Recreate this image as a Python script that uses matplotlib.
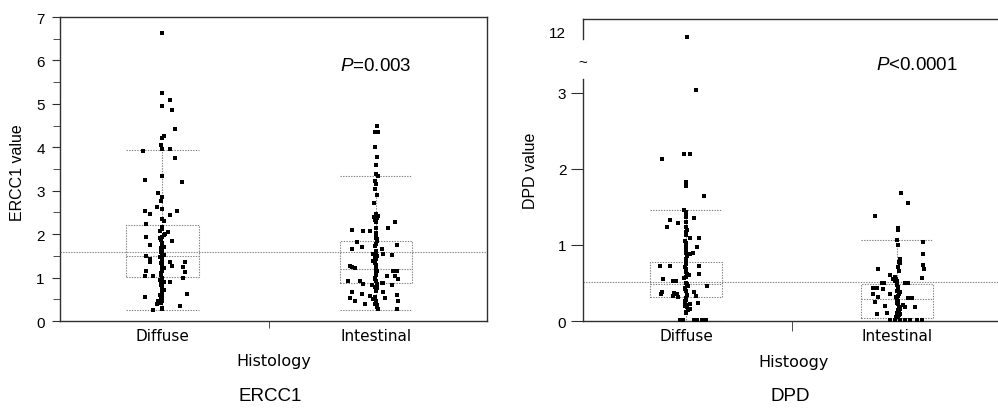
import matplotlib
matplotlib.use("Agg")
import numpy as np
import matplotlib.pyplot as plt
from matplotlib.ticker import MultipleLocator, FixedLocator

plt.rcParams['font.family'] = ['Liberation Sans', 'DejaVu Sans']
plt.rcParams['mathtext.fontset'] = 'custom'
plt.rcParams['mathtext.it'] = 'Liberation Sans:italic'
plt.rcParams['mathtext.rm'] = 'Liberation Sans'

categories = ['Diffuse', 'Intestinal']

# ERCC1 values, with horizontal jitter in category units
ercc1_diffuse = [6.63, 5.24, 5.08, 4.96, 4.85, 4.42, 4.25, 4.22, 4.06, 3.95, 3.95, 3.92, 3.76,
                 3.33, 3.24, 3.20, 2.94, 2.85, 2.77, 2.63, 2.58, 2.54, 2.53, 2.47, 2.43, 2.35,
                 2.24, 2.17, 2.08, 2.00, 2.05, 1.94, 1.93, 1.90, 1.85, 1.80, 1.74, 1.68, 1.62,
                 1.56, 1.50, 1.47, 1.43, 1.42, 1.36, 1.36, 1.36, 1.33, 1.30, 1.27, 1.24, 1.20,
                 1.16, 1.13, 1.10, 1.04, 1.04, 1.00, 1.00, 0.95, 0.93, 0.89, 0.85, 0.80, 0.74,
                 0.68, 0.62, 0.61, 0.57, 0.55, 0.55, 0.47, 0.42, 0.38, 0.35, 0.30, 0.26, 0.27,
                 2.30, 2.12, 1.97, 1.86, 1.76, 1.71, 1.65, 1.59, 1.53, 1.38, 1.22, 1.14, 1.07,
                 0.97, 0.90, 0.83, 0.77, 0.71, 0.65, 0.52, 0.45]
ercc1_diffuse_dx = [0.0, 0.0, 0.035, 0.0, 0.045, 0.06, 0.005, 0.0, -0.005, 0.0, 0.035, -0.09, 0.06,
                    0.0, -0.08, 0.09, -0.02, 0.0, -0.005, -0.025, 0.0, -0.08, 0.07, -0.06, 0.035, 0.0,
                    -0.075, 0.0, -0.01, 0.01, 0.025, 0.0, -0.075, -0.01, 0.045, 0.0, -0.06, -0.005, 0.0,
                    0.0, -0.075, -0.01, -0.06, 0.0, -0.06, 0.035, 0.105, -0.005, 0.0, 0.045, 0.095, 0.0,
                    -0.075, 0.105, -0.005, -0.08, -0.045, 0.0, 0.095, -0.01, -0.005, 0.035, 0.0, 0.0, 0.0,
                    0.0, 0.115, -0.01, 0.0, -0.08, 0.0, -0.02, -0.005, -0.025, 0.08, 0.0, -0.045, 0.0,
                    0.005, 0.0, 0.005, -0.005, 0.0, 0.005, 0.0, -0.005, 0.005, 0.0, 0.005, 0.0, -0.005,
                    0.0, 0.005, -0.005, 0.0, 0.005, 0.0, -0.005, 0.0]

ercc1_intestinal = [4.50, 4.35, 4.35, 4.00, 3.77, 3.60, 3.39, 3.33, 3.23, 3.16, 3.04, 2.90, 2.71,
                    2.46, 2.42, 2.40, 2.37, 2.33, 2.28, 2.27, 2.14, 2.15, 2.10, 2.08, 2.07, 2.02,
                    1.95, 1.88, 1.81, 1.78, 1.74, 1.70, 1.66, 1.66, 1.62, 1.55, 1.54, 1.53, 1.46,
                    1.38, 1.30, 1.27, 1.24, 1.22, 1.18, 1.16, 1.16, 1.10, 1.04, 1.04, 0.97, 0.97,
                    0.93, 0.91, 0.88, 0.88, 0.85, 0.85, 0.83, 0.82, 0.78, 0.72, 0.66, 0.66, 0.62,
                    0.61, 0.58, 0.53, 0.52, 0.50, 0.47, 0.45, 0.40, 0.39, 0.33, 0.28, 0.27,
                    1.92, 1.84, 1.72, 1.58, 1.50, 1.42, 1.34, 1.26, 1.14, 1.06, 1.00, 0.93,
                    0.75, 0.68, 0.55, 0.45, 0.36]
ercc1_intestinal_dx = [0.005, -0.005, 0.01, -0.005, 0.005, 0.0, 0.0, 0.01, -0.005, 0.0, -0.005, 0.005, -0.01,
                       0.0, 0.01, -0.01, 0.005, -0.005, 0.0, 0.09, 0.055, 0.0, -0.11, -0.06, -0.03, 0.0,
                       0.0, 0.005, -0.09, 0.0, 0.1, -0.065, -0.11, 0.03, 0.0, -0.015, 0.035, 0.075, -0.005,
                       -0.015, 0.0, -0.12, -0.11, -0.1, 0.0, 0.08, 0.1, 0.0, 0.05, 0.09, -0.005, 0.105,
                       -0.13, -0.075, 0.03, 0.035, -0.06, 0.005, 0.075, -0.02, -0.005, 0.0, -0.11, 0.035, -0.065,
                       0.1, -0.03, 0.04, -0.12, -0.015, 0.105, -0.1, -0.005, -0.05, 0.005, 0.01, 0.1,
                       0.0, 0.005, -0.005, 0.0, 0.005, 0.0, -0.005, 0.0, 0.005, 0.0, -0.005, 0.0,
                       0.005, 0.0, -0.005, 0.0, 0.005]

# DPD values
dpd_diffuse = [11.8, 3.04, 2.20, 2.20, 2.13, 1.82, 1.78, 1.64, 1.46, 1.43, 1.37, 1.35, 1.33, 1.30,
               1.29, 1.24, 1.24, 1.17, 1.09, 1.09, 1.02, 0.97, 0.97, 0.90, 0.88, 0.90, 0.82, 0.75,
               0.72, 0.72, 0.72, 0.68, 0.62, 0.62, 0.60, 0.58, 0.56, 0.55, 0.53, 0.53, 0.50, 0.46,
               0.46, 0.42, 0.38, 0.37, 0.36, 0.36, 0.33, 0.38, 0.33, 0.31, 0.30, 0.26, 0.23, 0.22,
               0.21, 0.20, 0.16, 0.15, 0.10, 0.01, 0.01, 0.01, 0.01, 0.01, 0.01,
               1.40, 1.20, 1.13, 1.05, 0.93, 0.86, 0.79, 0.71, 0.65, 0.48, 0.44, 0.40, 0.34,
               0.28, 0.24, 0.18, 0.12]
dpd_diffuse_dx = [0.005, 0.045, -0.01, 0.02, -0.115, 0.0, 0.0, 0.085, -0.01, 0.0, 0.0, 0.035, -0.075, 0.0,
                  -0.04, -0.09, 0.0, 0.0, 0.02, 0.06, 0.0, 0.05, 0.0, 0.03, 0.02, 0.0, 0.0, 0.0,
                  -0.125, -0.075, 0.06, 0.0, 0.06, 0.005, 0.015, 0.0, -0.01, -0.11, -0.065, -0.05, 0.0, 0.01,
                  0.1, -0.005, -0.115, -0.06, -0.12, -0.045, -0.065, 0.035, 0.045, -0.04, 0.0, -0.005, 0.055, 0.02,
                  0.0, -0.005, 0.02, 0.01, 0.0, -0.03, -0.015, 0.035, 0.05, 0.075, 0.095,
                  0.0, 0.005, 0.0, -0.005, 0.0, 0.005, 0.0, -0.005, 0.0, 0.005, -0.005, 0.0, 0.005,
                  0.0, -0.005, 0.005, 0.0]

dpd_intestinal = [1.68, 1.55, 1.38, 1.22, 1.20, 1.07, 1.04, 1.00, 0.88, 0.82, 0.78, 0.76, 0.73, 0.71,
                  0.68, 0.68, 0.66, 0.60, 0.57, 0.55, 0.53, 0.50, 0.50, 0.50, 0.50, 0.47, 0.43, 0.44,
                  0.43, 0.42, 0.38, 0.36, 0.36, 0.33, 0.31, 0.30, 0.30, 0.28, 0.25, 0.22, 0.21, 0.20,
                  0.19, 0.18, 0.16, 0.12, 0.11, 0.09, 0.09, 0.07, 0.05, 0.01, 0.01, 0.01, 0.01, 0.01,
                  0.01, 0.01,
                  0.58, 0.55, 0.52, 0.45, 0.40, 0.35, 0.32, 0.26, 0.24, 0.19, 0.14, 0.10, 0.08, 0.06]
dpd_intestinal_dx = [0.02, 0.055, -0.105, 0.005, 0.005, 0.0, 0.125, 0.005, 0.125, 0.015, 0.01, 0.015, 0.125, 0.005,
                     0.13, -0.09, 0.01, -0.035, 0.12, -0.02, -0.01, -0.07, -0.06, 0.04, 0.055, 0.0, 0.005, -0.095,
                     -0.115, -0.065, 0.015, -0.115, -0.035, 0.005, -0.09, 0.055, 0.07, 0.0, -0.105, 0.005, 0.03, -0.055,
                     0.085, 0.04, 0.015, 0.01, -0.045, -0.095, 0.015, 0.005, -0.005, -0.035, -0.01, 0.015, 0.04, 0.06,
                     0.095, 0.12,
                     -0.01, -0.005, 0.0, 0.005, 0.0, 0.01, -0.005, 0.005, 0.0, 0.01, 0.005, 0.0, 0.01, 0.005]

# box statistics (whisker low, q1, median, q3, whisker high)
ercc1_box = [(0.25, 1.02, 1.50, 2.20, 3.93), (0.25, 0.87, 1.19, 1.85, 3.33)]
dpd_box = [(0.0, 0.32, 0.49, 0.78, 1.46), (0.0, 0.04, 0.29, 0.49, 1.06)]
ercc1_mean = 1.60
dpd_mean = 0.51

W, H = 998, 410
fig = plt.figure(figsize=(W / 100, H / 100), dpi=100)

grey = '#808080'
dot = (0, (1.2, 1.2))
spine_c = '#303030'


def px(x0, y0, x1, y1):
    return [x0 / W, 1 - y1 / H, (x1 - x0) / W, (y1 - y0) / H]


def draw_boxes(ax, box):
    stats = [dict(whislo=b[0], q1=b[1], med=b[2], q3=b[3], whishi=b[4]) for b in box]
    lp = dict(color=grey, linestyle=dot, linewidth=0.8)
    ax.bxp(stats, positions=[1, 2], widths=0.34, capwidths=0.34, showfliers=False,
           boxprops=lp, whiskerprops=lp, capprops=lp, medianprops=lp, manage_ticks=False)


def draw_points(ax, vals, dxs, pos):
    ax.scatter(pos + np.array(dxs), vals, s=9, marker='s', color='black', linewidths=0, zorder=3)


# ---- ERCC1 panel ----
ax1 = fig.add_axes(px(60, 18, 487, 322))
draw_boxes(ax1, ercc1_box)
ax1.axhline(ercc1_mean, color=grey, linestyle=dot, linewidth=0.8)
draw_points(ax1, ercc1_diffuse, ercc1_diffuse_dx, 1)
draw_points(ax1, ercc1_intestinal, ercc1_intestinal_dx, 2)
ax1.set_xlim(0.52, 2.52)
ax1.set_ylim(0, 7)
ax1.yaxis.set_major_locator(MultipleLocator(1))
ax1.yaxis.set_minor_locator(MultipleLocator(0.5))
ax1.set_xticks([1, 2])
ax1.set_xticklabels(categories, family='DejaVu Sans', fontsize=11)
ax1.xaxis.set_minor_locator(FixedLocator([1.5]))
ax1.tick_params(axis='x', which='major', length=0, pad=5)
ax1.tick_params(axis='x', which='minor', length=5, color=spine_c)
ax1.tick_params(axis='y', which='major', length=6, pad=5, labelsize=11, color=spine_c)
ax1.tick_params(axis='y', which='minor', length=5, color=spine_c)
for s in ax1.spines.values():
    s.set_color(spine_c)
    s.set_linewidth(1.0)
ax1.set_ylabel('ERCC1 value', fontsize=11.5)
ax1.yaxis.set_label_coords(-0.082, 0.49)
ax1.set_xlabel('Histology', family='DejaVu Sans', fontsize=11.5)
ax1.xaxis.set_label_coords(0.5, -0.105)
ax1.text(0.655, 0.84, '$P$=0.003', transform=ax1.transAxes, fontsize=13.5, va='center')
fig.text(270 / W, 1 - 397 / H, 'ERCC1', fontsize=13.5, ha='center', va='center')

# ---- DPD panel (broken y axis) ----
ax2 = fig.add_axes(px(583, 80, 998, 322))
ax2t = fig.add_axes(px(583, 20, 998, 40), sharex=ax2)
draw_boxes(ax2, dpd_box)
ax2.axhline(dpd_mean, color=grey, linestyle=dot, linewidth=0.8)
d_vals = np.array(dpd_diffuse)
d_dx = np.array(dpd_diffuse_dx)
low = d_vals < 5
draw_points(ax2, d_vals[low], d_dx[low], 1)
draw_points(ax2t, d_vals[~low], d_dx[~low], 1)
draw_points(ax2, dpd_intestinal, dpd_intestinal_dx, 2)
ax2.set_xlim(0.51, 2.48)
ax2.set_ylim(0, 3.18)
ax2t.set_ylim(11.72, 12.52)
ax2.set_yticks([0, 1, 2, 3])
ax2.set_xticks([1, 2])
ax2.set_xticklabels(categories, family='DejaVu Sans', fontsize=11)
ax2.xaxis.set_minor_locator(FixedLocator([1.5]))
ax2.tick_params(axis='x', which='major', length=0, pad=5)
ax2.tick_params(axis='x', which='minor', length=7, color=spine_c)
ax2.tick_params(axis='y', length=9, pad=3, labelsize=11, color=spine_c)
ax2.spines['top'].set_visible(False)
ax2.spines['right'].set_visible(False)
ax2t.spines['bottom'].set_visible(False)
ax2t.spines['right'].set_visible(False)
for a in (ax2, ax2t):
    for s in a.spines.values():
        s.set_color(spine_c)
        s.set_linewidth(1.0)
ax2t.set_yticks([12])
ax2t.tick_params(axis='y', length=0, pad=12, labelsize=11)
ax2t.tick_params(axis='x', which='both', bottom=False, labelbottom=False)
ax2t.patch.set_visible(False)
ax2.set_ylabel('DPD value', fontsize=11.5)
ax2.yaxis.set_label_coords(-0.108, 0.624)
ax2.set_xlabel('Histoogy', family='DejaVu Sans', fontsize=11.5)
ax2.xaxis.set_label_coords(0.507, -0.136)
ax2.text(0.705, 1.06, '$P$<0.0001', transform=ax2.transAxes, fontsize=13.5, va='center')
fig.text(583 / W, 1 - 63 / H, '~', fontsize=11, ha='center', va='center')
fig.text(790 / W, 1 - 397 / H, 'DPD', fontsize=13.5, ha='center', va='center')

fig.savefig('out.png', dpi=100)
